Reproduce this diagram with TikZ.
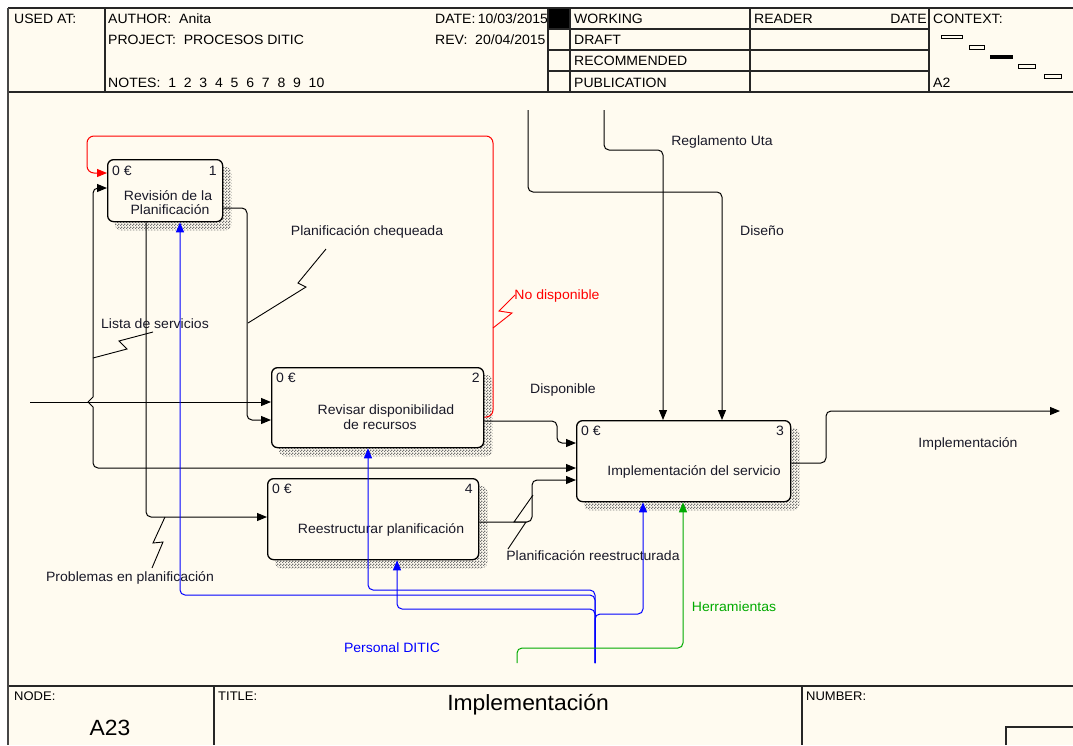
\documentclass[tikz,border=0pt]{standalone}
\usepackage{fontspec}
\setmainfont{Liberation Sans}[FakeStretch=1.04]
\usetikzlibrary{arrows.meta,patterns}

\definecolor{paper}{RGB}{255,251,240}
\definecolor{frame}{RGB}{70,70,70}
\definecolor{ink}{RGB}{25,25,40}
\definecolor{mechblue}{RGB}{0,0,255}
\definecolor{ctrlred}{RGB}{255,0,0}
\definecolor{toolgreen}{RGB}{0,170,0}

\pgfdeclarelayer{paperlayer}
\pgfdeclarelayer{shadowlayer}
\pgfsetlayers{paperlayer,shadowlayer,main}

% fine checker used for the box shadows
\pgfdeclarepatternformonly{shadowchecks}{\pgfpointorigin}{\pgfpoint{3pt}{3pt}}{\pgfpoint{3pt}{3pt}}{%
  \pgfpathrectangle{\pgfpointorigin}{\pgfpoint{1.5pt}{1.5pt}}%
  \pgfpathrectangle{\pgfpoint{1.5pt}{1.5pt}}{\pgfpoint{1.5pt}{1.5pt}}%
  \pgfusepath{fill}}

\tikzset{
  every node/.style={font=\fontsize{13.5}{16}\selectfont, inner sep=0pt, text=ink},
  actbox/.style={draw=black, line width=1.3pt, rounded corners=6pt, fill=paper,
                 anchor=north west, inner sep=0pt},
  flow/.style={line width=1pt, rounded corners=5pt, -{Triangle[length=10pt,width=8pt]}},
  squig/.style={line width=0.9pt},
  lbl/.style={anchor=base},
  hdr/.style={anchor=base west, text=black},
  rule/.style={line width=1.2pt, draw=black!85},
  small/.style={font=\fontsize{12.5}{14}\selectfont},
  big/.style={font=\fontsize{22}{26}\selectfont, text=black},
}

\begin{document}
\begin{tikzpicture}[x=1pt,y=-1pt]
\useasboundingbox (0,0) rectangle (1073,745);

% sheet
\begin{pgfonlayer}{paperlayer}
  \fill[white] (0,0) rectangle (1073,745);
  \fill[paper] (8,8) rectangle (1073,745);
\end{pgfonlayer}

% ---------- header texts ----------
\node[hdr] (usedat) at (14,23) {USED AT:};
\node[hdr] (author) at (108,23) {AUTHOR:\ \ Anita};
\node[hdr] (project) at (108,44) {PROJECT:\ \ PROCESOS DITIC};
\node[hdr] (notes) at (108,87) {NOTES:\ \ 1\ \ 2\ \ 3\ \ 4\ \ 5\ \ 6\ \ 7\ \ 8\ \ 9\ \ 10};
\node[hdr] (date) at (435,23) {DATE:\,10/03/2015};
\node[hdr] (rev) at (435,44) {REV:\ \ 20/04/2015};
\node[hdr] (working) at (574,23) {WORKING};
\node[hdr] (draft) at (574,44) {DRAFT};
\node[hdr] (recommended) at (574,65.5) {RECOMMENDED};
\node[hdr] (publication) at (574,87) {PUBLICATION};
\node[hdr] (reader) at (754,23) {READER};
\node[anchor=base east, text=black] (rdate) at (927,23) {DATE};
\node[hdr] (context) at (933,23) {CONTEXT:};
\node[hdr] (ctxnode) at (933,87) {A2};

% ---------- header grid ----------
\fill[black] (548,8) rectangle (570,29);
\draw[rule] (8,8) -- (1073,8);
\draw[rule] (8,92) -- (1073,92);
\foreach \x in {105,548,570,750,929} \draw[rule] (\x,8) -- (\x,92);
\foreach \y in {29,50,71} \draw[rule] (548,\y) -- (929,\y);

% context map
\draw[line width=0.9pt] (941,35) rectangle (962,38.5);
\draw[line width=0.9pt] (969,45) rectangle (984,49);
\fill[black] (990,54.5) rectangle (1013,58.5);
\draw[line width=0.9pt] (1018,64) rectangle (1035,68);
\draw[line width=0.9pt] (1044,74) rectangle (1061,78);

% ---------- footer ----------
\draw[rule] (8,686) -- (1073,686);
\draw[rule] (214,686) -- (214,745);
\draw[rule] (802,686) -- (802,745);
\draw[rule] (1006,745) -- (1006,727) -- (1073,727);
\draw[line width=2pt, draw=frame] (8,8) -- (8,745);
\node[hdr, small] (nodelbl) at (14,700) {NODE:};
\node[hdr, small] (titlelbl) at (218,700) {TITLE:};
\node[hdr, small] (numberlbl) at (806,700) {NUMBER:};
\node[big, anchor=base] (nodeno) at (110,735) {A23};
\node[big, anchor=base] (title) at (528,710) {Implementación};

% ---------- activity boxes ----------
\node[actbox, minimum width=115pt, minimum height=62pt] (b1) at (107,159) {};
\node[actbox, minimum width=212pt, minimum height=80pt] (b2) at (271,367) {};
\node[actbox, minimum width=214pt, minimum height=81pt] (b3) at (576,420) {};
\node[actbox, minimum width=211pt, minimum height=81pt] (b4) at (267,478) {};

\begin{pgfonlayer}{shadowlayer}
  \foreach \n in {b1,b2,b3,b4}
    \fill[pattern=shadowchecks, pattern color=black!55, rounded corners=6pt]
      ([shift={(8pt,-8pt)}]\n.south west) rectangle ([shift={(8pt,-8pt)}]\n.north east);
\end{pgfonlayer}

% box labels
\node[anchor=base west] (b1c) at (112,175) {0 €};
\node[anchor=base east] (b1n) at (217,175) {1};
\node[lbl] (b1ta) at (168,200) {Revisión de la};
\node[lbl] (b1tb) at (170,214) {Planificación};

\node[anchor=base west] (b2c) at (276,382) {0 €};
\node[anchor=base east] (b2n) at (480,382) {2};
\node[lbl] (b2ta) at (386,414) {Revisar disponibilidad};
\node[lbl] (b2tb) at (380,429) {de recursos};

\node[anchor=base west] (b3c) at (581,435) {0 €};
\node[anchor=base east] (b3n) at (784,435) {3};
\node[lbl] (b3t) at (694,475) {Implementación del servicio};

\node[anchor=base west] (b4c) at (272,493) {0 €};
\node[anchor=base east] (b4n) at (473,493) {4};
\node[lbl] (b4t) at (381,533) {Reestructurar planificación};

% ---------- free ends ----------
\coordinate (src) at (30,402);
\coordinate (split) at (88,402);
\coordinate (sink) at (1060,411);
\coordinate (rules) at (604,110);
\coordinate (design) at (528,110);
\coordinate (staff) at (595,663);
\coordinate (tools) at (517,663);

% ---------- inputs ----------
\draw[flow] (src) -- (b2.west |- 0,402);
\draw[flow] (split) [sharp corners] -- (93,397) [rounded corners=5pt] -- (93,188) -- (b1.west |- 0,188);
\draw[flow] (split) [sharp corners] -- (93,407) [rounded corners=5pt] -- (93,468) -- (b3.west |- 0,468);
\draw[squig] (93,358) -- (127,349) -- (119,341) -- (153,332);
\node[lbl] (lista) at (155,328) {Lista de servicios};

% box 1 outputs
\draw[flow] (b1.east |- 0,208) -- (247,208) -- (247,420) -- (b2.west |- 0,420);
\draw[squig] (248,323) -- (306,287) -- (298,283) -- (326,249);
\node[lbl] (chequeada) at (367,235) {Planificación chequeada};

\draw[flow] (b1.south -| 146,0) -- (146,517) -- (b4.west |- 0,517);
\draw[squig] (165,517) -- (153,543) -- (163,542) -- (152,568);
\node[lbl] (problemas) at (130,581) {Problemas en planificación};

% box 2 outputs
\draw[flow, ctrlred, rounded corners=7pt] (b2.east |- 0,417) -- (493,417) -- (493,136) -- (87,136) -- (87,173) -- (b1.west |- 0,173);
\draw[squig, ctrlred] (493,328) -- (512,313) -- (499,311) -- (515,295);
\node[lbl, text=ctrlred] (nodisp) at (557,299) {No disponible};

\draw[flow] (b2.east |- 0,421) -- (557,421) -- (557,443) -- (b3.west |- 0,443);
\node[lbl] (disp) at (563,393) {Disponible};

% box 4 output
\draw[flow] (b4.east |- 0,522) -- (532,522) -- (532,480) -- (b3.west |- 0,480);
\draw[squig] (508,549) -- (526,522) -- (514,522) -- (533,495);
\node[lbl] (reestr) at (593,560) {Planificación reestructurada};

% box 3 output
\draw[flow] (b3.east |- 0,463) -- (826,463) -- (826,411) -- (sink);
\node[lbl] (impl) at (968,447) {Implementación};

% ---------- controls ----------
\draw[flow] (rules) -- (604,150) -- (663,150) -- (b3.north -| 663,0);
\node[lbl] (reglamento) at (722,145) {Reglamento Uta};
\draw[flow] (design) -- (528,192) -- (722,192) -- (b3.north -| 722,0);
\node[lbl] (diseno) at (762,235) {Diseño};

% ---------- mechanisms ----------
\draw[flow, mechblue] (staff) -- (595,590) -- (368,590) -- (b2.south -| 368,0);
\draw[flow, mechblue] (staff) -- (595,595) -- (180,595) -- (b1.south -| 180,0);
\draw[flow, mechblue] (staff) -- (595,609) -- (397,609) -- (b4.south -| 397,0);
\draw[flow, mechblue] (staff) -- (595,614) -- (643,614) -- (b3.south -| 643,0);
\node[lbl, text=mechblue] (personal) at (392,652) {Personal DITIC};

\draw[flow, toolgreen] (tools) -- (517,648) -- (683,648) -- (b3.south -| 683,0);
\node[lbl, text=toolgreen] (herr) at (734,611) {Herramientas};

\end{tikzpicture}
\end{document}
